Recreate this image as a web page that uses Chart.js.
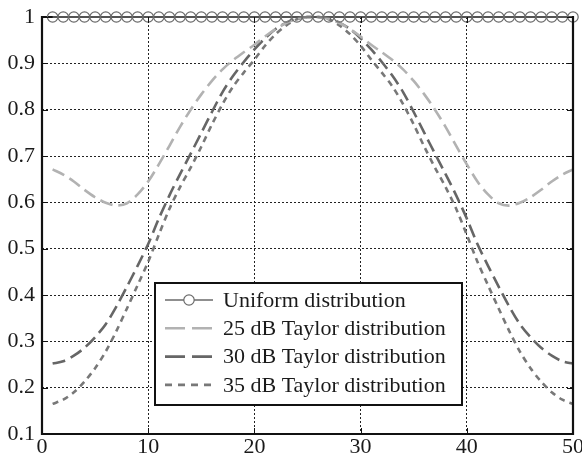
<!DOCTYPE html>
<html><head><meta charset="utf-8">
<script src="https://cdn.jsdelivr.net/npm/chart.js@4.4.1/dist/chart.umd.min.js"></script>
<style>html,body{margin:0;padding:0;background:#fff}#wrap{width:582px;height:457px;position:relative}</style>
</head><body><div id="wrap"><canvas id="c" width="582" height="457"></canvas></div>
<script>
const xValues = [1,2,3,4,5,6,7,8,9,10,11,12,13,14,15,16,17,18,19,20,21,22,23,24,25,26,27,28,29,30,31,32,33,34,35,36,37,38,39,40,41,42,43,44,45,46,47,48,49,50];
const uniform = [1,1,1,1,1,1,1,1,1,1,1,1,1,1,1,1,1,1,1,1,1,1,1,1,1,1,1,1,1,1,1,1,1,1,1,1,1,1,1,1,1,1,1,1,1,1,1,1,1,1];
const taylor25 = [0.671,0.66,0.645,0.627,0.611,0.599,0.593,0.598,0.617,0.645,0.682,0.722,0.763,0.8,0.833,0.862,0.887,0.907,0.924,0.94,0.958,0.974,0.987,0.996,1.0,
                  1.0,0.996,0.987,0.974,0.958,0.94,0.924,0.907,0.887,0.862,0.833,0.8,0.763,0.722,0.682,0.645,0.617,0.598,0.593,0.599,0.611,0.627,0.645,0.66,0.671];
const taylor30 = [0.252,0.257,0.269,0.286,0.309,0.337,0.375,0.418,0.463,0.51,0.565,0.615,0.661,0.705,0.75,0.795,0.838,0.873,0.903,0.93,0.954,0.974,0.988,0.997,1.0,
                  1.0,0.997,0.988,0.974,0.954,0.93,0.903,0.873,0.838,0.795,0.75,0.705,0.661,0.615,0.565,0.51,0.463,0.418,0.375,0.337,0.309,0.286,0.269,0.257,0.252];
const taylor35 = [0.165,0.174,0.19,0.213,0.242,0.278,0.322,0.371,0.421,0.472,0.53,0.586,0.633,0.675,0.72,0.768,0.812,0.85,0.88,0.908,0.938,0.963,0.982,0.995,1.0,
                  1.0,0.995,0.982,0.963,0.938,0.908,0.88,0.85,0.812,0.768,0.72,0.675,0.633,0.586,0.53,0.472,0.421,0.371,0.322,0.278,0.242,0.213,0.19,0.174,0.165];
const seriesNames = ['Uniform distribution','25 dB Taylor distribution','30 dB Taylor distribution','35 dB Taylor distribution'];
const xTicks = [0,10,20,30,40,50];
const yTicks = [0.1,0.2,0.3,0.4,0.5,0.6,0.7,0.8,0.9,1];

const FONT = '"Liberation Serif", "Times New Roman", serif';
function pts(arr){ return arr.map((v,i)=>({x:xValues[i], y:v})); }

const framePlugin = {
  id:'frame',
  beforeDatasetsDraw(chart){
    const {ctx, chartArea:a} = chart;
    ctx.save(); ctx.strokeStyle='#111'; ctx.lineWidth=2; ctx.setLineDash([]);
    ctx.beginPath(); ctx.moveTo(a.left,a.top); ctx.lineTo(a.right,a.top); ctx.stroke();
    ctx.restore();
  },
  afterDatasetsDraw(chart){
    const {ctx, chartArea:a, scales} = chart;
    ctx.save(); ctx.strokeStyle='#111'; ctx.setLineDash([]);
    ctx.lineWidth=1;
    const tl=6;
    xTicks.forEach(v=>{ const px=Math.round(scales.x.getPixelForValue(v))+0.5;
      ctx.beginPath(); ctx.moveTo(px,a.bottom); ctx.lineTo(px,a.bottom-tl); ctx.moveTo(px,a.top); ctx.lineTo(px,a.top+tl); ctx.stroke(); });
    yTicks.forEach(v=>{ const py=Math.round(scales.y.getPixelForValue(v))+0.5;
      ctx.beginPath(); ctx.moveTo(a.left,py); ctx.lineTo(a.left+tl,py); ctx.moveTo(a.right,py); ctx.lineTo(a.right-tl,py); ctx.stroke(); });
    ctx.lineWidth=2.2;
    ctx.beginPath(); ctx.moveTo(a.left,a.top-1); ctx.lineTo(a.left,a.bottom); ctx.lineTo(a.right,a.bottom); ctx.lineTo(a.right,a.top-1); ctx.stroke();
    // legend
    const L={x:155,y:283,w:307,h:122};
    ctx.fillStyle='#fff'; ctx.fillRect(L.x,L.y,L.w,L.h);
    ctx.lineWidth=2; ctx.strokeStyle='#111'; ctx.strokeRect(L.x,L.y,L.w,L.h);
    chart.data.datasets.forEach((ds,i)=>{
      const cy=L.y+17+i*28.3;
      ctx.save();
      ctx.strokeStyle=ds.borderColor; ctx.lineWidth=ds.borderWidth; ctx.setLineDash(ds.legendDash||ds.borderDash||[]);
      ctx.beginPath(); ctx.moveTo(165,cy); ctx.lineTo(213,cy); ctx.stroke();
      if(ds.pointRadius>0){ ctx.setLineDash([]); ctx.lineWidth=ds.pointBorderWidth; ctx.strokeStyle=ds.pointBorderColor;
        ctx.beginPath(); ctx.arc(189,cy,ds.pointRadius,0,Math.PI*2); ctx.fillStyle='#fff'; ctx.fill(); ctx.stroke(); }
      ctx.restore();
      ctx.fillStyle='#1a1a1a'; ctx.font='22px '+FONT; ctx.textBaseline='middle'; ctx.textAlign='left';
      ctx.fillText(ds.label,223,cy+1);
    });
    ctx.restore();
  }
};

new Chart(document.getElementById('c'),{
  type:'line',
  data:{datasets:[
    {label:seriesNames[0], data:pts(uniform), borderColor:'#6a6a6a', borderWidth:1.7, pointRadius:5.2, pointBorderWidth:1.2,
     pointBorderColor:'#6a6a6a', pointBackgroundColor:'rgba(0,0,0,0)', clip:false, tension:0},
    {label:seriesNames[1], data:pts(taylor25), borderColor:'#b2b2b2', borderWidth:2.6, borderDash:[13,6], legendDash:[20,7], pointRadius:0, clip:false, tension:0.3},
    {label:seriesNames[2], data:pts(taylor30), borderColor:'#666666', borderWidth:2.6, borderDash:[13,6], legendDash:[20,7], pointRadius:0, clip:false, tension:0.3},
    {label:seriesNames[3], data:pts(taylor35), borderColor:'#787878', borderWidth:2.6, borderDash:[6,5], legendDash:[7,6], pointRadius:0, clip:false, tension:0.3}
  ]},
  options:{
    responsive:false, animation:false, events:[],
    layout:{padding:{left:0,right:9,top:17,bottom:0}},
    plugins:{legend:{display:false}, tooltip:{enabled:false}},
    scales:{
      x:{type:'linear', min:0, max:50,
        afterBuildTicks(s){ s.ticks = xTicks.map(v=>({value:v})); },
        afterFit(s){ s.height=23; s.paddingLeft=0; s.paddingRight=0; },
        ticks:{font:{family:FONT,size:22}, color:'#1a1a1a', padding:0, maxRotation:0, autoSkip:false, callback:v=>String(v)},
        grid:{color:'#222', lineWidth:1, drawTicks:false},
        border:{display:false, dash:[2,2]}},
      y:{type:'linear', min:0.1, max:1,
        afterBuildTicks(s){ s.ticks = yTicks.map(v=>({value:v})); },
        afterFit(s){ s.width=42; s.paddingTop=0; s.paddingBottom=0; },
        ticks:{font:{family:FONT,size:22}, color:'#1a1a1a', padding:7, autoSkip:false, callback:v=>(Math.round(v*10)/10).toString()},
        grid:{color:'#222', lineWidth:1, drawTicks:false},
        border:{display:false, dash:[2,2]}}
    }
  },
  plugins:[framePlugin]
});
</script></body></html>
